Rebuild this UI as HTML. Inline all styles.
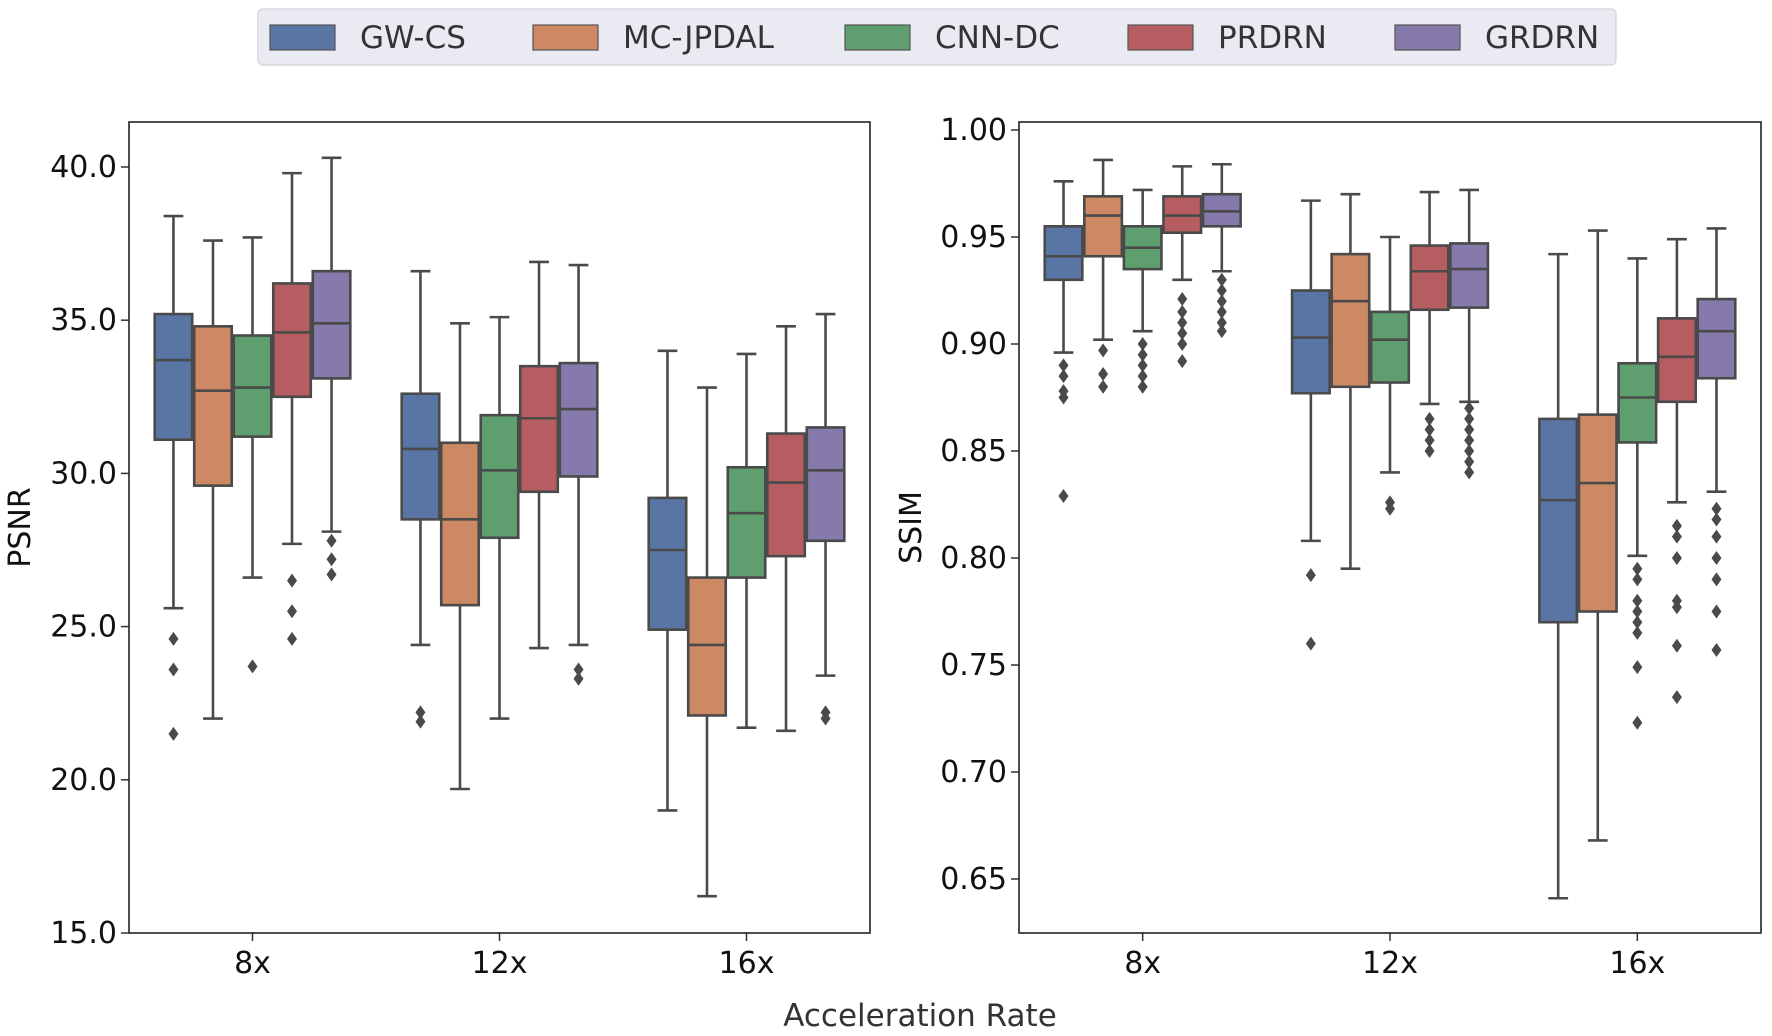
<!DOCTYPE html>
<html><head><meta charset="utf-8">
<style>
html,body{margin:0;padding:0;background:#fff;}
svg{display:block;font-family:"DejaVu Sans","Liberation Sans",sans-serif;}
</style></head>
<body>
<svg id="chart" width="1772" height="1036" viewBox="0 0 1772 1036" xmlns="http://www.w3.org/2000/svg">
<g id="legend">
<rect x="258" y="9" width="1358" height="56" rx="5" fill="#eaeaf2" stroke="#d8d8e0" stroke-width="1.5"/>
</g>
<g id="left"></g>
<g id="right"></g>
<text x="920" y="1026" font-size="31" fill="#333" text-anchor="middle">Acceleration Rate</text>
</svg>
<script>
const categories = ["8x","12x","16x"];
const methods = ["GW-CS","MC-JPDAL","CNN-DC","PRDRN","GRDRN"];
const colors = ["#5975a4","#cc8963","#5f9e6e","#b55d60","#857aab"];
// [whiskerHigh, Q3, median, Q1, whiskerLow]
const psnrStats = [
 [[38.4,35.2,33.7,31.1,25.6],[37.6,34.8,32.7,29.6,22.0],[37.7,34.5,32.8,31.2,26.6],[39.8,36.2,34.6,32.5,27.7],[40.3,36.6,34.9,33.1,28.1]],
 [[36.6,32.6,30.8,28.5,24.4],[34.9,31.0,28.5,25.7,19.7],[35.1,31.9,30.1,27.9,22.0],[36.9,33.5,31.8,29.4,24.3],[36.8,33.6,32.1,29.9,24.4]],
 [[34.0,29.2,27.5,24.9,19.0],[32.8,26.6,24.4,22.1,16.2],[33.9,30.2,28.7,26.6,21.7],[34.8,31.3,29.7,27.3,21.6],[35.2,31.5,30.1,27.8,23.4]]
];
const psnrFliers = [
 [[24.6,23.6,21.5],[],[23.7],[26.5,25.5,24.6],[27.8,27.2,26.7]],
 [[22.2,21.9],[],[],[],[23.6,23.3]],
 [[],[],[],[],[22.2,22.0]]
];
const ssimStats = [
 [[0.976,0.955,0.941,0.930,0.896],[0.986,0.969,0.960,0.941,0.902],[0.972,0.955,0.945,0.935,0.906],[0.983,0.969,0.960,0.952,0.930],[0.984,0.970,0.962,0.955,0.934]],
 [[0.967,0.925,0.903,0.877,0.808],[0.970,0.942,0.920,0.880,0.795],[0.950,0.915,0.902,0.882,0.840],[0.971,0.946,0.934,0.916,0.872],[0.972,0.947,0.935,0.917,0.873]],
 [[0.942,0.865,0.827,0.770,0.641],[0.953,0.867,0.835,0.775,0.668],[0.940,0.891,0.875,0.854,0.801],[0.949,0.912,0.894,0.873,0.826],[0.954,0.921,0.906,0.884,0.831]]
];
const ssimFliers = [
 [[0.890,0.885,0.878,0.875,0.829],[0.897,0.886,0.880],[0.900,0.895,0.890,0.885,0.880],[0.921,0.915,0.910,0.905,0.900,0.892],[0.930,0.925,0.920,0.915,0.910,0.906]],
 [[0.792,0.760],[],[0.826,0.823],[0.865,0.860,0.855,0.850],[0.870,0.865,0.860,0.855,0.850,0.845,0.840]],
 [[],[],[0.795,0.790,0.780,0.775,0.770,0.765,0.749,0.723],[0.815,0.810,0.800,0.780,0.777,0.759,0.735],[0.823,0.818,0.810,0.800,0.790,0.775,0.757]]
];
const psnrTicks = [15,20,25,30,35,40];
const ssimTicks = [0.65,0.70,0.75,0.80,0.85,0.90,0.95,1.00];

const NS="http://www.w3.org/2000/svg";
function mk(parent,tag,attrs){const e=document.createElementNS(NS,tag);for(const k in attrs)e.setAttribute(k,attrs[k]);parent.appendChild(e);return e;}
const LINE="#4a4a4a";

function panel(g,x0,x1,y0,y1,vmin,vmax,ticks,dec,stats,fliers,ylabel,ylx,panelName){
  const ys=v=>y1-(v-vmin)/(vmax-vmin)*(y1-y0);
  const pw=x1-x0, step=pw/categories.length, bw=step*0.8/methods.length;
  const xs=(ci,mi)=>x0+step*(ci+0.5)-step*0.4+bw*(mi+0.5);
  ticks.forEach(t=>{
    const y=ys(t);
    const tl=mk(g,'line',{x1:x0-8,x2:x0,y1:y,y2:y,stroke:"#333","stroke-width":1.5});
    
    
    const tx=mk(g,'text',{x:x0-12,y:y+10,"font-size":30,"text-anchor":"end",fill:"#111"});
    tx.textContent=t.toFixed(dec);
    
    
  });
  categories.forEach((c,ci)=>{
    const cx=x0+step*(ci+0.5);
    const tl=mk(g,'line',{x1:cx,x2:cx,y1:y1,y2:y1+8,stroke:"#333","stroke-width":1.5});
    
    
    const tx=mk(g,'text',{x:cx,y:y1+40,"font-size":30,"text-anchor":"middle",fill:"#111"});
    tx.textContent=c;
    
    
    methods.forEach((m,mi)=>{
      const s=stats[ci][mi], x=xs(ci,mi), l=x-bw/2+1, r=x+bw/2-1;
      const bg=mk(g,'g',{});
      
      
      mk(bg,'line',{x1:x,x2:x,y1:ys(s[0]),y2:ys(s[1]),stroke:LINE,"stroke-width":2.6});
      mk(bg,'line',{x1:x,x2:x,y1:ys(s[3]),y2:ys(s[4]),stroke:LINE,"stroke-width":2.6});
      mk(bg,'line',{x1:x-bw/4,x2:x+bw/4,y1:ys(s[0]),y2:ys(s[0]),stroke:LINE,"stroke-width":2.6});
      mk(bg,'line',{x1:x-bw/4,x2:x+bw/4,y1:ys(s[4]),y2:ys(s[4]),stroke:LINE,"stroke-width":2.6});
      mk(bg,'rect',{x:l,y:ys(s[1]),width:r-l,height:ys(s[3])-ys(s[1]),fill:colors[mi],stroke:LINE,"stroke-width":2.6});
      mk(bg,'line',{x1:l,x2:r,y1:ys(s[2]),y2:ys(s[2]),stroke:LINE,"stroke-width":2.6});
      fliers[ci][mi].forEach(v=>{
        const y=ys(v);
        const d=mk(bg,'path',{d:`M${x} ${y-7}L${x+5} ${y}L${x} ${y+7}L${x-5} ${y}Z`,fill:LINE});
        
        
      });
    });
  });
  const fr=mk(g,'rect',{x:x0,y:y0,width:pw,height:y1-y0,fill:"none",stroke:"#222","stroke-width":1.6});
  
  
  const yl=mk(g,'text',{x:ylx,y:(y0+y1)/2,"font-size":30,"text-anchor":"middle",fill:"#111",transform:`rotate(-90 ${ylx} ${(y0+y1)/2})`});
  yl.textContent=ylabel;
  
  
}
panel(document.getElementById('left'),129,870,122,933,15,15+(933-122)/((933-167)/25),psnrTicks,1,psnrStats,psnrFliers,"PSNR",30,"psnr");
const ppu=(879-130)/0.35;
panel(document.getElementById('right'),1019,1761,122,933,0.65-(933-879)/ppu,1.0+(130-122)/ppu,ssimTicks,2,ssimStats,ssimFliers,"SSIM",921,"ssim");

const lg=document.getElementById('legend');
const lx=[270,533,845,1128,1395];
methods.forEach((m,i)=>{
  const eg=mk(lg,'g',{});
  
  
  mk(eg,'rect',{x:lx[i],y:25,width:65,height:25,fill:colors[i],stroke:"#555","stroke-width":1.2});
  const t=mk(eg,'text',{x:lx[i]+90,y:48,"font-size":31,fill:"#333"});
  t.textContent=m;
});
</script>
</body></html>
